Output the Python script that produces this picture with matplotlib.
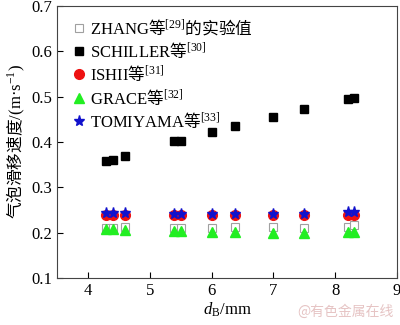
import matplotlib
matplotlib.use("Agg")
import matplotlib.pyplot as plt

plt.rcParams['font.family'] = ['Liberation Serif', 'Noto Sans CJK SC']
# latin in Times-like serif, chinese through \mathsf -> Noto CJK
plt.rcParams['mathtext.fontset'] = 'custom'
plt.rcParams['mathtext.rm'] = 'Liberation Serif'
plt.rcParams['mathtext.it'] = 'Liberation Serif:italic'
plt.rcParams['mathtext.bf'] = 'Liberation Serif:bold'
plt.rcParams['mathtext.sf'] = 'Noto Sans CJK SC'

# bubble diameter, mm
d_b = [4.3, 4.4, 4.6, 5.4, 5.5, 6.0, 6.38, 7.0, 7.5, 8.2, 8.3]

zhang = [0.210, 0.210, 0.212, 0.210, 0.210, 0.209, 0.213, 0.213, 0.211, 0.212, 0.217]
schiller = [0.357, 0.361, 0.369, 0.401, 0.403, 0.422, 0.435, 0.456, 0.472, 0.494, 0.497]
ishii = [0.238, 0.238, 0.238, 0.238, 0.238, 0.238, 0.238, 0.238, 0.238, 0.238, 0.238]
grace = [0.207, 0.207, 0.206, 0.203, 0.203, 0.201, 0.201, 0.200, 0.200, 0.201, 0.202]
tomiyama = [0.244, 0.244, 0.243, 0.241, 0.241, 0.241, 0.241, 0.242, 0.242, 0.246, 0.246]

labels = ["ZHANG$\\mathsf{等}^{[29]}\\mathsf{的实验值}$", "SCHILLER$\\mathsf{等}^{[30]}$",
          "ISHII$\\mathsf{等}^{[31]}$", "GRACE$\\mathsf{等}^{[32]}$",
          "TOMIYAMA$\\mathsf{等}^{[33]}$"]

fig = plt.figure(figsize=(4, 3.25), dpi=100)
ax = fig.add_axes([0.1425, 0.145, 0.85, 0.8365])

ax.plot(d_b, zhang, linestyle="none", marker="s", markersize=5.5,
        markerfacecolor="white", markeredgecolor="#a0a0a0", markeredgewidth=0.8, label=labels[0])
ax.plot(d_b, schiller, linestyle="none", marker="s", markersize=6,
        color="black", label=labels[1])
ax.plot(d_b, ishii, linestyle="none", marker="o", markersize=7,
        color="#ee1111", label=labels[2])
ax.plot(d_b, grace, linestyle="none", marker="^", markersize=7,
        color="#22ee22", label=labels[3])
ax.plot(d_b, tomiyama, linestyle="none", marker="*", markersize=8,
        color="#1111cc", label=labels[4])

ax.set_xlim(3.5, 9)
ax.set_ylim(0.1, 0.7)
ax.set_xticks([4, 5, 6, 7, 8, 9])
ax.set_yticks([0.1, 0.2, 0.3, 0.4, 0.5, 0.6, 0.7])
ax.tick_params(direction="in", labelsize=12, length=4, top=False, right=False)
for s in ax.spines.values():
    s.set_color("#444444")

ax.set_xlabel("$d_\\mathrm{B}$/mm", fontsize=12, labelpad=1)
ax.set_ylabel("$\\mathsf{气泡滑移速度}$/(m·s$^{-1}$)", fontsize=12, labelpad=3)

ax.legend(loc="upper left", frameon=False, fontsize=12, handletextpad=0.1,
          labelspacing=0.2, borderaxespad=0.3, handlelength=1.2)

fig.text(0.985, 0.02, "@有色金属在线", color="#e6c4c4", fontsize=10,
         ha="right", va="bottom", family=['Noto Sans CJK SC'])

fig.savefig("out.png", dpi=100)
